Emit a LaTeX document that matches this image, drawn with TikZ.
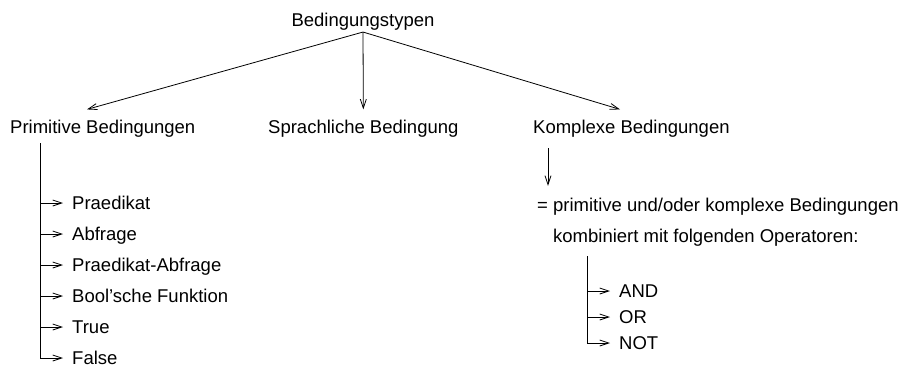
\documentclass[tikz,border=0pt]{standalone}
\usepackage{fontspec}
\setmainfont{Liberation Sans}
\usetikzlibrary{arrows.meta}

\begin{document}
\begin{tikzpicture}[x=1pt,y=-1pt,
  every node/.style={inner sep=0pt, font=\fontsize{18.5}{22}\selectfont},
  ln/.style={line width=0.8pt},
  arr/.style={ln, -{Straight Barb[length=9pt,width=6pt]}},
  item/.style={anchor=west, text height=13.3pt, text depth=0pt},
  branch/.style={arr, shorten >=9pt},
]
\useasboundingbox (0,0) rectangle (901,369);

% root and the three kinds of conditions
\node[anchor=base] (root) at (363,27) {Bedingungstypen};
\node[anchor=base west] (prim)   at (10,133)  {Primitive Bedingungen};
\node[anchor=base west] (sprach) at (268,133) {Sprachliche Bedingung};
\node[anchor=base west] (komp)   at (533,133) {Komplexe Bedingungen};

\draw[arr] ([yshift=-1pt]root.south) -- ([xshift=77pt,yshift=10pt]prim.north west);
\draw[arr] ([yshift=-1pt]root.south) -- ([yshift=10pt]sprach.north);
\draw[arr] ([yshift=-1pt]root.south) -- ([xshift=87pt,yshift=10pt]komp.north west);

% primitive conditions
\coordinate (ltop) at ([xshift=30pt,yshift=-6pt]prim.south west);
\node[item] (p1) at (72,203) {Praedikat};
\node[item] (p2) at (72,234) {Abfrage};
\node[item] (p3) at (72,265) {Praedikat-Abfrage};
\node[item] (p4) at (72,296) {Bool'sche Funktion};
\node[item] (p5) at (72,327) {True};
\node[item] (p6) at (72,358) {False};
\foreach \n in {p1,p2,p3,p4,p5,p6}
  \draw[branch] (ltop) |- (\n.west);

% complex conditions
\node[anchor=base west] (eq)   at (537,211) {= primitive und/oder komplexe Bedingungen};
\node[anchor=base west] (komb) at (553,242) {kombiniert mit folgenden Operatoren:};
\draw[arr] ([xshift=15pt,yshift=-11pt]komp.south west) -- ([xshift=11pt,yshift=11.5pt]eq.north west);

\coordinate (rtop) at ([xshift=34pt,yshift=-10pt]komb.south west);
\node[item] (o1) at (619,291) {AND};
\node[item] (o2) at (619,317) {OR};
\node[item] (o3) at (619,343) {NOT};
\foreach \n in {o1,o2,o3}
  \draw[branch] (rtop) |- (\n.west);
\end{tikzpicture}
\end{document}
